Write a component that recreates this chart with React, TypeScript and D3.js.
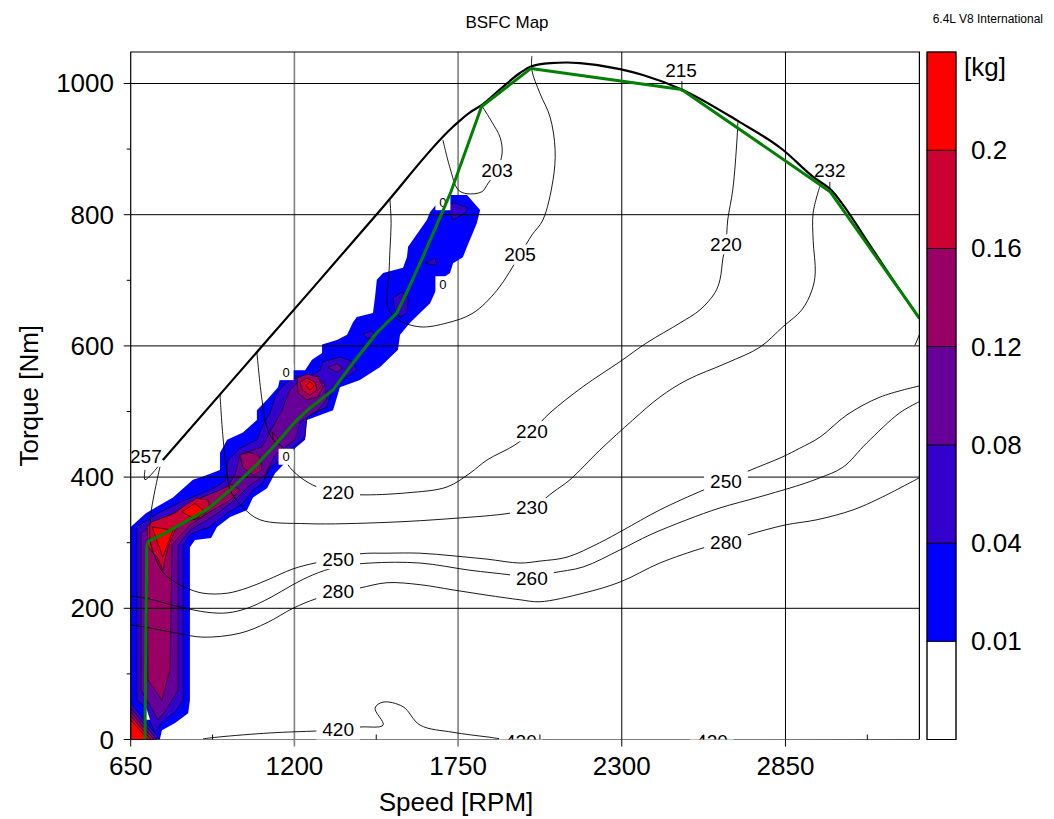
import React from 'react';
import * as d3 from 'd3';

type P = [number, number];

const TITLE = 'BSFC Map';
const SUBTITLE = '6.4L V8 International';
const X_LABEL = 'Speed [RPM]';
const Y_LABEL = 'Torque [Nm]';
const CB_UNIT = '[kg]';

const X_TICKS = [650, 1200, 1750, 2300, 2850];
const X_MINOR = [925, 1475, 2025, 2575, 3125];
const Y_TICKS = [0, 200, 400, 600, 800, 1000];
const Y_MINOR = [100, 300, 500, 700, 900];

const FUEL_LEVELS = [0.01, 0.04, 0.08, 0.12, 0.16, 0.2];
const FUEL_COLORS = ['#ffffff', '#0000ff', '#3300cc', '#660099', '#990066', '#cc0033', '#ff0000'];
const FUEL_LEVEL_LABELS = ['0.01', '0.04', '0.08', '0.12', '0.16', '0.2'];

// full-load (max torque) curve
const WOT: P[] = [[758, 426], [1000, 552], [1250, 682], [1500, 813], [1733, 934], [1790, 956], [1829, 967], [1891, 991], [1958, 1016], [1995, 1026], [2060, 1031], [2115, 1032], [2160, 1031], [2294, 1022], [2371, 1013], [2501, 991], [2690, 943], [2841, 899], [2942, 858], [3009, 835], [3056, 807], [3123, 761], [3257, 670], [3300, 642]];

// operating line (green)
const OP_LINE: P[] = [[698, 0], [704, 294], [709, 302], [754, 312], [905, 350], [984, 380], [1084, 424], [1141, 452], [1208, 487], [1252, 505], [1330, 533], [1397, 574], [1477, 620], [1544, 650], [1577, 681], [1632, 736], [1700, 807], [1726, 835], [1829, 965], [1995, 1023], [2501, 991], [3000, 835], [3257, 670], [3300, 642]];

// fuel mass regions (value >= level)
const F001_MAIN: P[] = [[650, 0], [650, 324], [701, 345], [792, 369], [859, 396], [893, 401], [950, 411], [950, 437], [974, 457], [1027, 468], [1074, 487], [1074, 502], [1108, 518], [1145, 537], [1152, 551], [1195, 563], [1236, 563], [1259, 579], [1293, 589], [1293, 602], [1343, 609], [1377, 617], [1397, 636], [1410, 644], [1464, 650], [1471, 675], [1477, 701], [1498, 711], [1565, 719], [1578, 735], [1582, 751], [1622, 777], [1645, 792], [1656, 804], [1676, 815], [1723, 830], [1780, 830], [1824, 807], [1813, 787], [1780, 751], [1766, 735], [1733, 726], [1723, 711], [1689, 701], [1673, 682], [1656, 665], [1622, 650], [1588, 635], [1555, 617], [1548, 594], [1488, 568], [1420, 548], [1353, 537], [1330, 502], [1242, 487], [1236, 457], [1202, 444], [1178, 426], [1135, 406], [1108, 383], [1061, 369], [1041, 350], [984, 339], [940, 324], [920, 307], [866, 304], [849, 293], [849, 60], [843, 40], [799, 25], [755, 14], [748, 0]];
const F004_MAIN: P[] = [[671, 60], [671, 324], [742, 345], [822, 363], [883, 374], [933, 384], [970, 396], [977, 426], [1017, 444], [1074, 457], [1094, 479], [1118, 498], [1141, 528], [1175, 545], [1209, 553], [1252, 553], [1286, 563], [1296, 576], [1353, 583], [1397, 576], [1410, 563], [1377, 553], [1330, 537], [1309, 507], [1242, 492], [1236, 461], [1195, 446], [1168, 429], [1118, 415], [1094, 391], [1061, 380], [1027, 360], [974, 345], [916, 324], [883, 319], [849, 312], [826, 296], [826, 60], [799, 42], [755, 27], [732, 11], [715, 27], [698, 50]];
const F004_A: P[] = [[1717, 815], [1740, 818], [1784, 810], [1774, 803], [1733, 792], [1723, 803]];
const F004_B: P[] = [[1639, 726], [1673, 734], [1679, 723]];
const F004_C: P[] = [[1531, 673], [1561, 682], [1582, 673], [1578, 650], [1555, 644], [1538, 655]];
const F004_D: P[] = [[1430, 618], [1460, 623], [1477, 615], [1447, 611]];
const F008_MAIN: P[] = [[685, 75], [685, 315], [748, 335], [832, 353], [900, 365], [967, 380], [1000, 403], [1017, 434], [1091, 446], [1118, 469], [1158, 502], [1185, 533], [1219, 548], [1279, 551], [1303, 541], [1309, 518], [1279, 502], [1219, 484], [1202, 457], [1135, 434], [1101, 403], [1051, 388], [1000, 365], [933, 342], [849, 319], [809, 296], [809, 75], [765, 42], [742, 30], [715, 52]];
const F008_ISL: P[] = [[1313, 567], [1343, 573], [1363, 566], [1343, 560]];
const F012_MAIN: P[] = [[708, 91], [705, 297], [732, 327], [799, 347], [866, 365], [933, 377], [990, 389], [1017, 380], [984, 365], [916, 347], [849, 327], [789, 297], [782, 106], [755, 60]];
const F012_PENT: P[] = [[1017, 434], [1051, 438], [1084, 431], [1091, 411], [1061, 403], [1027, 415]];
const F012_TRI: P[] = [[1125, 469], [1152, 454], [1132, 454]];
const F012_DIAM: P[] = [[1209, 551], [1242, 557], [1279, 553], [1296, 537], [1279, 522], [1242, 518], [1212, 528]];
const F016_MAIN: P[] = [[705, 324], [722, 332], [799, 345], [832, 357], [873, 368], [910, 365], [916, 353], [889, 339], [822, 330], [799, 319], [775, 293], [758, 258], [738, 278], [708, 293]];
const F016_DIAM: P[] = [[1219, 545], [1242, 551], [1269, 545], [1276, 533], [1252, 525], [1226, 533]];
const F020_A: P[] = [[822, 347], [866, 360], [900, 347], [866, 336]];
const F020_B: P[] = [[722, 324], [792, 319], [758, 278]];
const F020_C: P[] = [[1239, 540], [1252, 545], [1266, 539], [1252, 533]];
const CORNER_004: P[] = [[650, 56], [748, 0], [650, 0]];
const CORNER_008: P[] = [[650, 48], [738, 0], [650, 0]];
const CORNER_012: P[] = [[650, 42], [728, 0], [650, 0]];
const CORNER_016: P[] = [[650, 36], [718, 0], [650, 0]];
const CORNER_020: P[] = [[650, 30], [708, 0], [650, 0]];
const HOLE: P[] = [[701, 50], [715, 30], [695, 30]];

const FUEL_REGIONS: { level: number; pts: P[] }[] = [
  { level: 0.01, pts: F001_MAIN },
  { level: 0.04, pts: F004_MAIN }, { level: 0.04, pts: F004_A }, { level: 0.04, pts: F004_B },
  { level: 0.04, pts: F004_C }, { level: 0.04, pts: F004_D },
  { level: 0.08, pts: F008_MAIN }, { level: 0.08, pts: F008_ISL },
  { level: 0.12, pts: F012_MAIN }, { level: 0.12, pts: F012_PENT }, { level: 0.12, pts: F012_TRI }, { level: 0.12, pts: F012_DIAM },
  { level: 0.16, pts: F016_MAIN }, { level: 0.16, pts: F016_DIAM },
  { level: 0.2, pts: F020_A }, { level: 0.2, pts: F020_B }, { level: 0.2, pts: F020_C },
  { level: 0.04, pts: CORNER_004 }, { level: 0.08, pts: CORNER_008 }, { level: 0.12, pts: CORNER_012 },
  { level: 0.16, pts: CORNER_016 }, { level: 0.2, pts: CORNER_020 },
  { level: 0, pts: HOLE },
];
const ZERO_LABELS: P[] = [[1172, 560], [1172, 431], [1699, 819], [1699, 694]];

// BSFC iso-lines [g/kWh]
const BSFC_203: P[] = [[1699, 914], [1723, 871], [1750, 838], [1780, 832], [1830, 835], [1851, 848], [1881, 868], [1898, 894], [1891, 918], [1864, 941], [1830, 966]];
const BSFC_205: P[] = [[1521, 823], [1525, 787], [1521, 746], [1518, 711], [1514, 659], [1548, 640], [1622, 629], [1713, 635], [1800, 650], [1881, 685], [1958, 739], [1998, 769], [2035, 792], [2069, 853], [2076, 899], [2059, 949], [2025, 985], [1998, 1020], [1998, 1042]];
const BSFC_215: P[] = [[2502, 1004], [2502, 987]];
const BSFC_220: P[] = [[2690, 941], [2687, 914], [2673, 838], [2656, 792], [2650, 755], [2640, 734], [2630, 701], [2613, 681], [2563, 655], [2496, 635], [2385, 605], [2294, 576], [2170, 538], [2059, 498], [1998, 470], [1941, 449], [1847, 426], [1790, 406], [1713, 385], [1578, 376], [1420, 373], [1347, 376], [1276, 385], [1219, 400], [1178, 419], [1168, 431], [1161, 445], [1128, 457], [1108, 476], [1091, 518], [1074, 590]];
const BSFC_230: P[] = [[2966, 844], [2943, 803], [2943, 761], [2950, 711], [2939, 685], [2905, 655], [2841, 629], [2764, 598], [2653, 574], [2519, 548], [2428, 522], [2337, 487], [2226, 441], [2126, 396], [2069, 377], [1998, 353], [1924, 345], [1733, 337], [1511, 331], [1242, 329], [1084, 335], [1027, 354], [984, 380], [974, 406], [960, 461], [950, 526]];
const BSFC_232: P[] = [[2999, 850], [2999, 835]];
const BSFC_250: P[] = [[752, 423], [718, 345], [715, 304], [732, 278], [758, 255], [789, 243], [832, 232], [893, 223], [974, 223], [1041, 231], [1108, 243], [1195, 260], [1269, 269], [1347, 275], [1420, 283], [1511, 284], [1622, 284], [1733, 280], [1847, 275], [1958, 269], [2025, 272], [2116, 278], [2226, 300], [2304, 319], [2428, 350], [2573, 380], [2650, 394], [2724, 409], [2841, 431], [2898, 444], [2966, 461], [3057, 495], [3168, 522], [3300, 539]];
const BSFC_257: P[] = [[698, 411], [698, 396], [758, 425]];
const BSFC_260: P[] = [[651, 219], [715, 214], [748, 210], [816, 202], [906, 194], [974, 193], [1041, 200], [1118, 216], [1195, 236], [1262, 251], [1343, 263], [1454, 269], [1622, 269], [1790, 258], [1924, 251], [1998, 246], [2069, 254], [2170, 263], [2294, 289], [2395, 312], [2519, 335], [2630, 353], [2764, 370], [2898, 388], [2966, 399], [3043, 415], [3123, 452], [3234, 498], [3300, 515]];
const BSFC_280: P[] = [[651, 175], [715, 170], [806, 162], [893, 156], [1017, 162], [1108, 178], [1195, 200], [1269, 214], [1347, 225], [1420, 231], [1511, 239], [1622, 236], [1733, 228], [1847, 220], [1958, 213], [2025, 210], [2170, 223], [2294, 240], [2428, 269], [2573, 292], [2650, 301], [2724, 312], [2849, 327], [2956, 335], [3077, 350], [3168, 368], [3300, 399]];
const BSFC_420: P[] = [[893, 1], [950, 4], [1118, 10], [1276, 13], [1347, 14.5], [1420, 19], [1498, 22], [1471, 48], [1498, 57], [1565, 50], [1622, 22], [1733, 11], [1847, 4], [1924, 0], [3300, 0]];
const BSFC_EDGE: P[] = [[3285, 601], [3300, 617]];

const BSFC_LINES: P[][] = [BSFC_203, BSFC_205, BSFC_215, BSFC_220, BSFC_230, BSFC_232, BSFC_250, BSFC_257, BSFC_260, BSFC_280, BSFC_420, BSFC_EDGE];

const BSFC_LABELS: { text: string; at: P }[] = [
  { text: '203', at: [1881, 868] }, { text: '205', at: [1958, 739] }, { text: '215', at: [2499, 1020] },
  { text: '220', at: [2650, 755] }, { text: '232', at: [2999, 868] }, { text: '220', at: [1998, 470] },
  { text: '230', at: [1998, 353] }, { text: '250', at: [2650, 394] }, { text: '280', at: [2650, 301] },
  { text: '260', at: [1998, 246] }, { text: '220', at: [1347, 376] }, { text: '250', at: [1347, 275] },
  { text: '280', at: [1347, 225] }, { text: '257', at: [701, 431] }, { text: '420', at: [1347, 14.5] },
  { text: '420', at: [1961, -3] }, { text: '420', at: [2603, -3] },
];

const FONT = '"Liberation Sans", Arial, Helvetica, sans-serif';

export default function App() {
  const L = 130.7, R = 919.4, T = 52, B = 739.5;
  const x = d3.scaleLinear().domain([650, 3300]).range([L, R]);
  const y = d3.scaleLinear().domain([0, 1048]).range([B, T]);
  const color = d3.scaleThreshold<number, string>().domain(FUEL_LEVELS).range(FUEL_COLORS);
  const smooth = d3.line<P>().x(d => x(d[0])).y(d => y(d[1])).curve(d3.curveCatmullRom.alpha(0.5));
  const mono = d3.line<P>().x(d => x(d[0])).y(d => y(d[1])).curve(d3.curveMonotoneX);
  const straight = d3.line<P>().x(d => x(d[0])).y(d => y(d[1]));
  const poly = (pts: P[]) => (straight(pts) || '') + 'Z';
  const cbY = d3.scaleLinear().domain([0, FUEL_COLORS.length]).range([B, T]);
  const cbX0 = 927, cbX1 = 956;
  const lblFs = 19;

  return (
    <svg width={1054} height={819} style={{ position: 'absolute', left: 0, top: 0, display: 'block' }} fontFamily={FONT}>
      <defs>
        <clipPath id="plotClip">
          <rect x={L} y={T} width={R - L} height={B - T} />
        </clipPath>
      </defs>
      <rect x={0} y={0} width={1054} height={819} fill="#fff" />
      <g clipPath="url(#plotClip)">
        {X_TICKS.slice(1).map((v, i) => (
          <line key={'vg' + i} x1={x(v)} x2={x(v)} y1={T} y2={B}
            stroke={v < 2000 ? '#808080' : '#000'} strokeWidth={v < 2000 ? 1.6 : 1} />
        ))}
        {FUEL_REGIONS.map((r, i) => (
          <path key={'f' + i} d={poly(r.pts)} fill={color(r.level)}
            stroke={r.level > 0.02 ? '#000' : 'none'} strokeWidth={0.6} strokeLinejoin="round" />
        ))}
        {Y_TICKS.slice(1).map((v, i) => (
          <line key={'hg' + i} x1={L} x2={R} y1={y(v)} y2={y(v)} stroke="#000" strokeWidth={1} />
        ))}
        {BSFC_LINES.map((ln, i) => (
          <path key={'c' + i} d={smooth(ln) || ''} fill="none" stroke="#000" strokeWidth={0.9} />
        ))}
        <line x1={L} x2={R} y1={B} y2={B} stroke="#000" strokeWidth={1.2} />
        {BSFC_LABELS.map((lb, i) => {
          const w = lb.text.length * 0.556 * lblFs + 12;
          return (
            <g key={'l' + i}>
              <rect x={x(lb.at[0]) - w / 2} y={y(lb.at[1]) - 10} width={w} height={20} fill="#fff" />
              <text x={x(lb.at[0])} y={y(lb.at[1])} fontSize={lblFs} textAnchor="middle" dominantBaseline="central" fill="#000">{lb.text}</text>
            </g>
          );
        })}
        {ZERO_LABELS.map((p, i) => (
          <g key={'z' + i}>
            <rect x={x(p[0]) - 7.5} y={y(p[1]) - 8} width={15} height={16} fill="#fff" />
            <text x={x(p[0])} y={y(p[1])} fontSize={13} textAnchor="middle" dominantBaseline="central">0</text>
          </g>
        ))}
        <path d={mono(WOT) || ''} fill="none" stroke="#000" strokeWidth={2.2} />
        <path d={straight(OP_LINE) || ''} fill="none" stroke="#008000" strokeWidth={3} strokeLinejoin="round" />
      </g>
      <path d={`M${L},${B}V${T}H${R}V${B}`} fill="none" stroke="#000" strokeWidth={1.2} />
      {X_TICKS.map((v, i) => (
        <g key={'xt' + i}>
          <line x1={x(v)} x2={x(v)} y1={B} y2={B + 7} stroke={v > 650 && v < 2000 ? '#808080' : '#000'} strokeWidth={v > 650 && v < 2000 ? 1.6 : 1} />
          <text x={x(v)} y={775} fontSize={26} textAnchor="middle">{v}</text>
        </g>
      ))}
      {X_MINOR.map((v, i) => (
        <line key={'xm' + i} x1={x(v)} x2={x(v)} y1={B} y2={B - 5} stroke="#000" strokeWidth={1} />
      ))}
      {Y_TICKS.map((v, i) => (
        <g key={'yt' + i}>
          <line x1={L - 7} x2={L} y1={y(v)} y2={y(v)} stroke="#000" strokeWidth={1} />
          <text x={114} y={y(v)} fontSize={26} textAnchor="end" dominantBaseline="central">{v}</text>
        </g>
      ))}
      {Y_MINOR.map((v, i) => (
        <line key={'ym' + i} x1={L - 4} x2={L} y1={y(v)} y2={y(v)} stroke="#000" strokeWidth={1} />
      ))}
      <text x={456} y={811} fontSize={26} textAnchor="middle">{X_LABEL}</text>
      <text transform={`translate(38, ${(T + B) / 2}) rotate(-90)`} fontSize={26} textAnchor="middle">{Y_LABEL}</text>
      <text x={507} y={28} fontSize={17} textAnchor="middle">{TITLE}</text>
      <text x={1043} y={23} fontSize={12} textAnchor="end">{SUBTITLE}</text>
      {FUEL_COLORS.map((c, i) => (
        <rect key={'cb' + i} x={cbX0} y={cbY(i + 1)} width={cbX1 - cbX0} height={cbY(i) - cbY(i + 1)}
          fill={c} stroke="#000" strokeWidth={0.8} />
      ))}
      <rect x={cbX0} y={T} width={cbX1 - cbX0} height={B - T} fill="none" stroke="#000" strokeWidth={1} />
      {FUEL_LEVEL_LABELS.map((t, i) => (
        <text key={'cbl' + i} x={971} y={cbY(i + 1)} fontSize={26} dominantBaseline="central">{t}</text>
      ))}
      <text x={964} y={67} fontSize={26} dominantBaseline="central">{CB_UNIT}</text>
    </svg>
  );
}
